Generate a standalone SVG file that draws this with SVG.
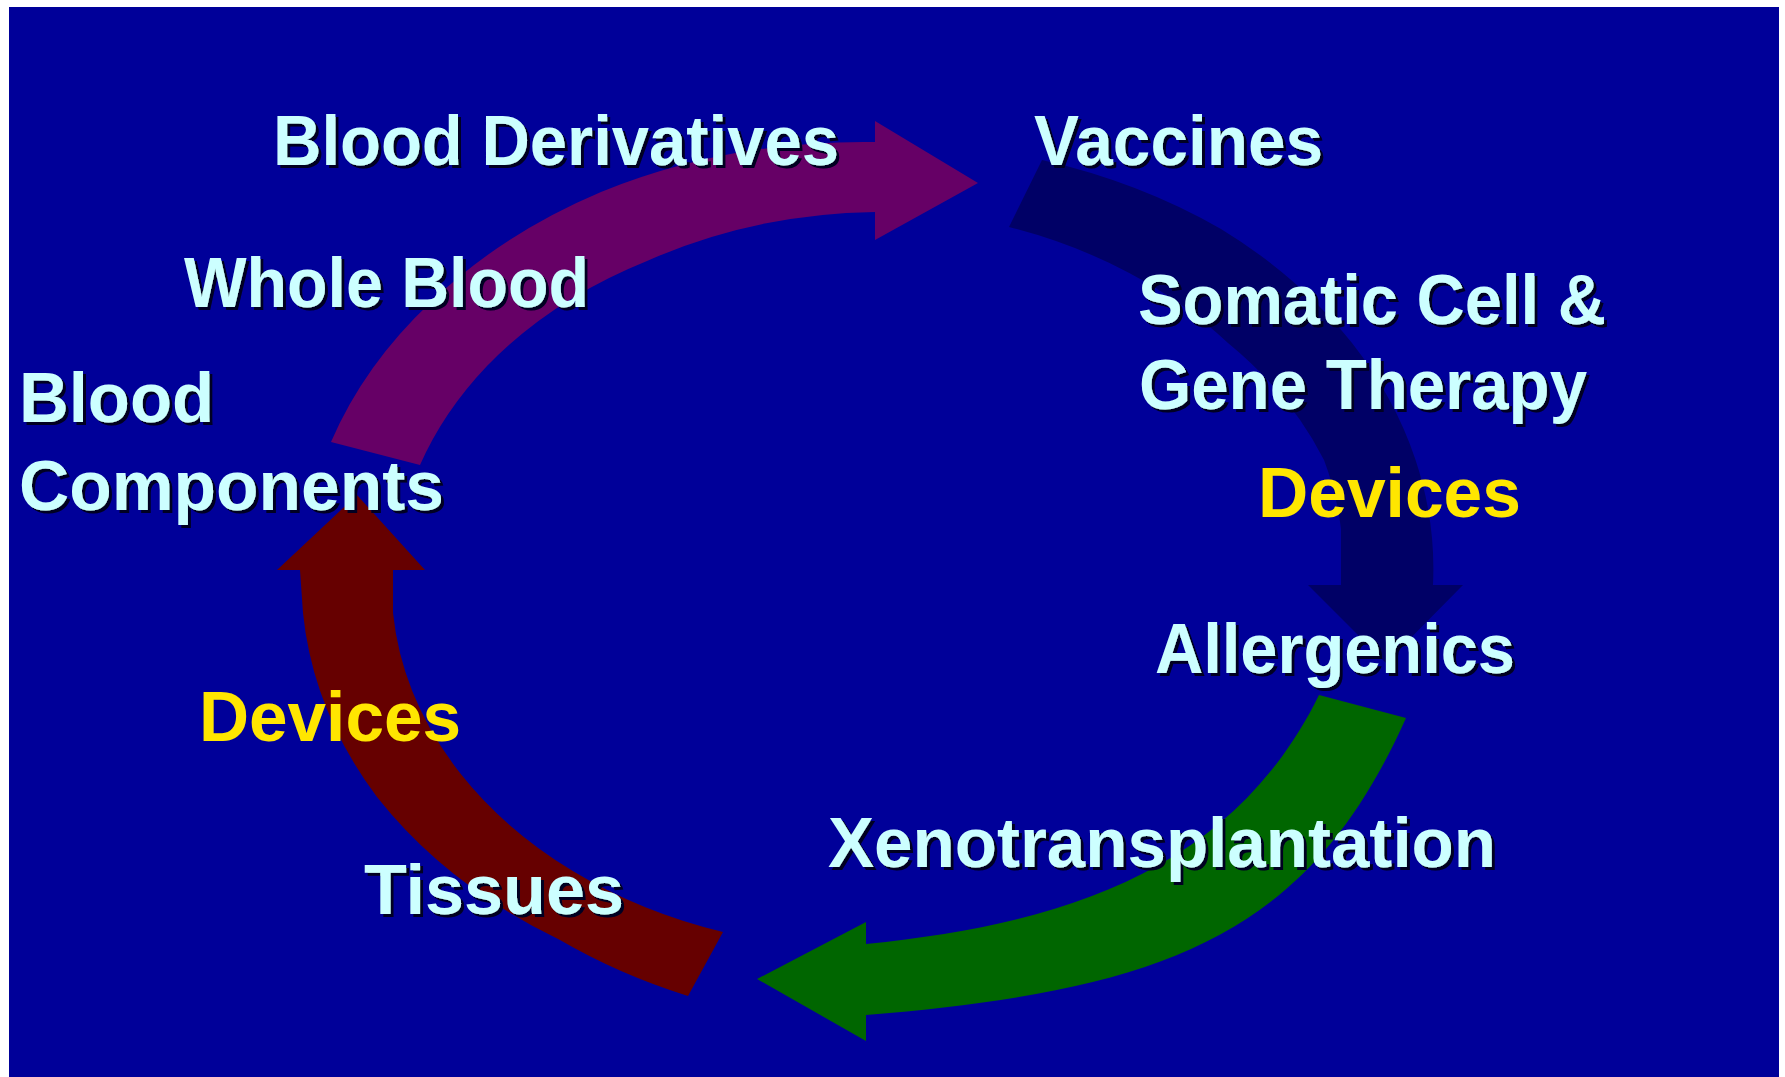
<svg xmlns="http://www.w3.org/2000/svg" width="1785" height="1077" viewBox="0 0 1785 1077">
<defs>
<style>
.lbl{font-family:"Liberation Sans",Arial,sans-serif;font-weight:bold;font-size:70px;}
.cy{fill:#CCFFFF;filter:url(#sh);}
.ye{fill:#FFE600;}
.arr{stroke:none;}
</style>
<filter id="sh" x="-5%" y="-20%" width="115%" height="150%">
<feDropShadow dx="3" dy="3" stdDeviation="0.6" flood-color="#000020" flood-opacity="1"/>
</filter>
</defs>
<rect x="0" y="0" width="1785" height="1077" fill="#FFFFFF"/>
<rect x="9" y="7" width="1770" height="1070" fill="#000099"/>
<g id="connectors">
<path id="arrow-purple" class="arr" fill="#660066" d="M 331,442 A 566 437 0 0 1 431,302 A 566 437 0 0 1 601,192 A 566 437 0 0 1 875,142 L 875,121 L 978,183 L 875,240 L 875,212 A 474 366 0 0 0 647,261 A 474 366 0 0 0 487,366 A 474 366 0 0 0 420,465 Z"/>
<path id="arrow-navy" class="arr" fill="#000066" d="M 1042,160 A 566 437 0 0 1 1221,229 A 566 437 0 0 1 1352,343 A 566 437 0 0 1 1433,585 L 1463,585 L 1386,663 L 1308,585 L 1341,585 L 1341,529 A 474 366 0 0 0 1324,460 A 474 366 0 0 0 1228,343 A 474 366 0 0 0 1009,227 Z"/>
<path id="arrow-green" class="arr" fill="#006600" d="M 1406,718 C 1308,937 1165,990 866,1015 L 866,1041 L 757,979 L 866,922 L 866,944 C 1065,924 1233,870 1319,695 Z"/>
<path id="arrow-red" class="arr" fill="#660000" d="M 688,996 A 566 437 0 0 1 560,940 A 566 437 0 0 1 377,797 A 566 437 0 0 1 303,613 L 300,570 L 277,570 L 357,495 L 425,570 L 393,570 L 393,613 A 474 366 0 0 0 460,773 A 474 366 0 0 0 723,932 Z"/>
</g>
<g id="node-blood-derivatives"><text class="lbl cy" x="273" y="165" textLength="566" lengthAdjust="spacingAndGlyphs">Blood Derivatives</text></g>
<g id="node-vaccines"><text class="lbl cy" x="1034" y="165" textLength="289" lengthAdjust="spacingAndGlyphs">Vaccines</text></g>
<g id="node-whole-blood"><text class="lbl cy" x="184" y="307" textLength="405" lengthAdjust="spacingAndGlyphs">Whole Blood</text></g>
<g id="node-blood-components">
<text class="lbl cy" x="19" y="422" textLength="195" lengthAdjust="spacingAndGlyphs">Blood</text>
<text class="lbl cy" x="19" y="510" textLength="425" lengthAdjust="spacingAndGlyphs">Components</text>
</g>
<g id="node-somatic">
<text class="lbl cy" x="1138" y="324" textLength="468" lengthAdjust="spacingAndGlyphs">Somatic Cell &amp;</text>
<text class="lbl cy" x="1139" y="409" textLength="448" lengthAdjust="spacingAndGlyphs">Gene Therapy</text>
</g>
<g id="node-devices-right"><text class="lbl ye" x="1258" y="517" textLength="263" lengthAdjust="spacingAndGlyphs">Devices</text></g>
<g id="node-allergenics"><text class="lbl cy" x="1155" y="673" textLength="360" lengthAdjust="spacingAndGlyphs">Allergenics</text></g>
<g id="node-xeno"><text class="lbl cy" x="828" y="867" textLength="668" lengthAdjust="spacingAndGlyphs">Xenotransplantation</text></g>
<g id="node-devices-left"><text class="lbl ye" x="199" y="741" textLength="262" lengthAdjust="spacingAndGlyphs">Devices</text></g>
<g id="node-tissues"><text class="lbl cy" x="364" y="914" textLength="260" lengthAdjust="spacingAndGlyphs">Tissues</text></g>
</svg>
